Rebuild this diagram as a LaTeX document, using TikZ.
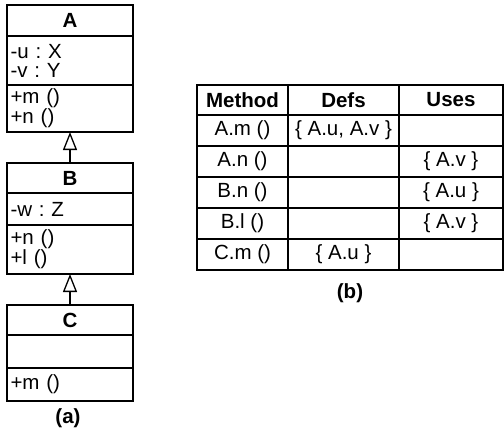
\documentclass[tikz,border=0pt]{standalone}
\usepackage{fontspec}
\setmainfont{Liberation Sans}
\usetikzlibrary{arrows.meta, positioning}
\newcommand{\umlsize}{\fontsize{20.5}{19}\selectfont\frenchspacing}

\begin{document}
\begin{tikzpicture}[
  x=1pt, y=-1pt,
  font=\umlsize,
  clsname/.style={draw, line width=1.3pt, outer sep=0pt, minimum width=126pt,
    minimum height=#1, font=\umlsize\bfseries},
  clsbody/.style={draw, line width=1.3pt, outer sep=0pt, minimum width=126pt,
    minimum height=#1, text width=119pt, inner xsep=3.5pt, inner ysep=0pt, align=left},
  inherits/.style={-{Triangle[open, length=18pt, width=14pt]}, line width=1.3pt},
  cell/.style={draw, line width=1.3pt, outer sep=0pt, inner sep=0pt, minimum height=#1},
  caption/.style={font=\umlsize\bfseries}
]
\useasboundingbox (0,0) rectangle (504,432);

% ── (a) class hierarchy ──
\node[clsname=31pt] (Aname) at (70,20.5) {A};
\node[clsbody=49pt, below=0pt of Aname] (Aattr) {-u : X\\-v : Y};
\node[clsbody=47pt, below=0pt of Aattr] (Ameth) {+m ()\\+n ()};

\node[clsname=30pt, below=31pt of Ameth] (Bname) {B};
\node[clsbody=32pt, below=0pt of Bname] (Battr) {-w : Z};
\node[clsbody=49pt, below=0pt of Battr] (Bmeth) {+n ()\\+l ()};

\node[clsname=30pt, below=31pt of Bmeth] (Cname) {C};
\node[clsbody=33pt, below=0pt of Cname] (Cattr) {};
\node[clsbody=33pt, below=0pt of Cattr] (Cmeth) {+m ()};

\draw[inherits] (Bname.north) -- (Ameth.south);
\draw[inherits] (Cname.north) -- (Bmeth.south);

\node[caption] (capa) at (68,418) {(a)};

% ── (b) defs / uses table ──
\node[cell=30pt, minimum width=91pt, font=\umlsize\bfseries] (hm) at (242.5,100) {Method};
\node[cell=30pt, minimum width=111pt, font=\umlsize\bfseries, right=0pt of hm] (hd) {Defs};
\node[cell=30pt, minimum width=104pt, font=\umlsize\bfseries, right=0pt of hd] (hu) {Uses};

\foreach \meth/\defs/\uses [count=\r] in {
    A.m ()/{\{ A.u, A.v \}}/{},
    A.n ()/{}/{\{ A.v \}},
    B.n ()/{}/{\{ A.u \}},
    B.l ()/{}/{\{ A.v \}},
    C.m ()/{\{ A.u \}}/{}} {
  \node[cell=31pt, minimum width=91pt] (m\r) at (242.5,99.5+31*\r) {\meth};
  \node[cell=31pt, minimum width=111pt, right=0pt of m\r] (d\r) {\defs};
  \node[cell=31pt, minimum width=104pt, right=0pt of d\r] (u\r) {\uses};
}

\node[caption] (capb) at (350,293) {(b)};

\end{tikzpicture}
\end{document}
